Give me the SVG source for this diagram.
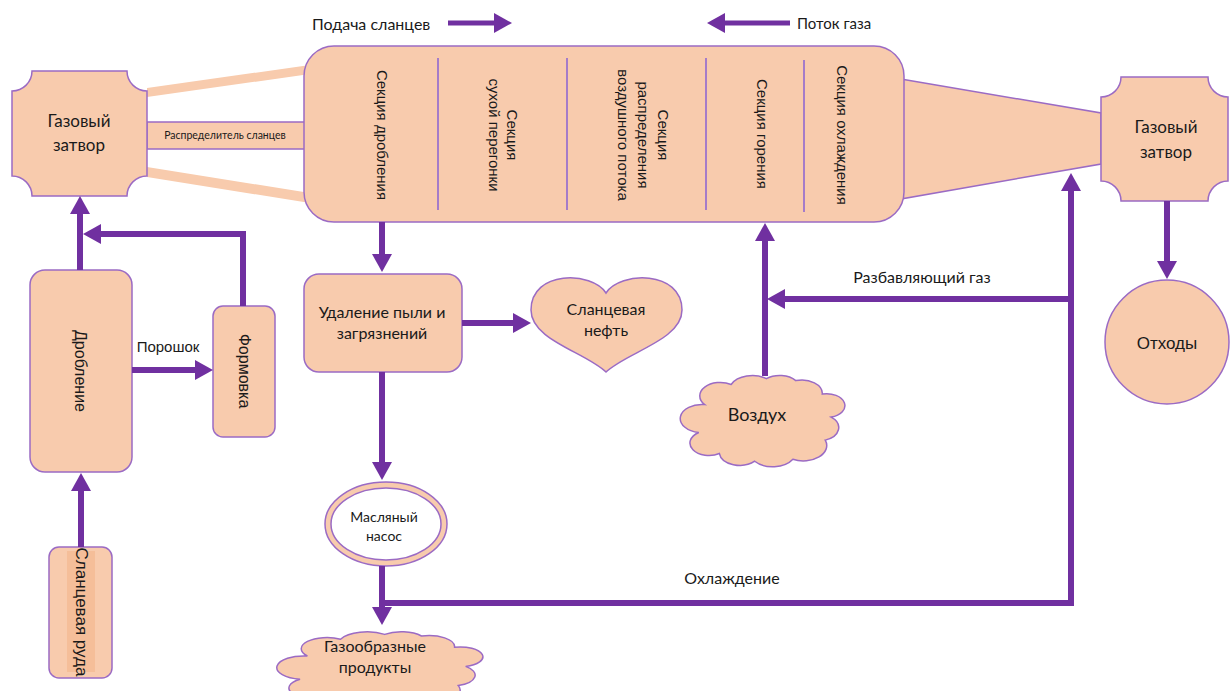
<svg xmlns="http://www.w3.org/2000/svg" xmlns:xlink="http://www.w3.org/1999/xlink" width="1230" height="691" viewBox="0 0 1230 691">
  <defs>
    <style>
      .n { fill: #f8cbad; stroke: #9b6bc4; stroke-width: 1.5; }
      .band { fill: #f8cbad; stroke: none; }
      .div { stroke: #a57cc9; stroke-width: 2; }
      .c { fill: none; stroke: #7030a0; stroke-width: 6; marker-end: url(#ah); }
      .cs { stroke-width: 5; }
      .t { font-family: Lato, "Liberation Sans", sans-serif; fill: #1a1a1a; text-anchor: middle; }
      .a { font-family: "Liberation Sans", Arial, sans-serif; fill: #1a1a1a; text-anchor: middle; }
      .v { dominant-baseline: central; }
    </style>
    <marker id="ah" viewBox="0 0 18 20" markerUnits="userSpaceOnUse" markerWidth="18" markerHeight="20" refX="9" refY="10" orient="auto">
      <path d="M0,0 L18,10 L0,20 Z" fill="#7030a0"/>
    </marker>
    <!-- cloud outline in a 100x100 box -->
    <path id="cloud" vector-effect="non-scaling-stroke" d="M10,35 A14,14 0 0 1 28,14 A16,16 0 0 1 52,8 A14,14 0 0 1 72,10 A14,14 0 0 1 90,24 A12,12 0 0 1 96,48 A14,14 0 0 1 92,72 A16,16 0 0 1 70,92 A16,16 0 0 1 44,94 A14,14 0 0 1 20,86 A12,12 0 0 1 6,64 A12,12 0 0 1 10,35 Z"/>
  </defs>

  <rect width="1230" height="691" fill="#ffffff"/>

  <!-- legend -->
  <g id="legend">
    <text class="t" x="312" y="30" style="text-anchor:start" font-size="16">Подача сланцев</text>
    <text class="t" x="797" y="29" style="text-anchor:start" font-size="15">Поток газа</text>
  </g>

  <!-- shale distributor arms -->
  <g id="distributor">
    <polygon class="band" points="147,88 310,65 310,74 147,97"/>
    <polygon class="band" points="147,167 310,193 310,203 147,177"/>
    <rect class="n" x="147" y="122" width="160" height="27" stroke-width="1"/>
    <text class="t" x="225" y="139" font-size="10.5">Распределитель сланцев</text>
  </g>

  <!-- outlet taper -->
  <g id="taper">
    <polygon class="n" points="895,78 1101,113 1101,164 895,200" stroke-width="1"/>
  </g>

  <!-- retort with sections -->
  <g id="retort">
    <rect class="n" x="304" y="46" width="600" height="176" rx="30" ry="30"/>
    <line class="div" x1="438" y1="58" x2="438" y2="210"/>
    <line class="div" x1="567" y1="58" x2="567" y2="210"/>
    <line class="div" x1="706" y1="58" x2="706" y2="210"/>
    <line class="div" x1="804" y1="60" x2="804" y2="212"/>
    <text class="a v" font-size="15" transform="translate(382,135) rotate(90)">Секция дробления</text>
    <text class="a v" font-size="15" transform="translate(504,135) rotate(90)"><tspan x="0" y="-9">Секция</tspan><tspan x="0" y="9">сухой перегонки</tspan></text>
    <text class="a v" font-size="15" transform="translate(644,135) rotate(90)"><tspan x="0" y="-20">Секция</tspan><tspan x="0" y="0">распределения</tspan><tspan x="0" y="20">воздушного потока</tspan></text>
    <text class="a v" font-size="15" transform="translate(762,134) rotate(90)">Секция горения</text>
    <text class="a v" font-size="15" transform="translate(842,135) rotate(90)">Секция охлаждения</text>
  </g>

  <g id="gate-left">
    <path class="n" d="M32,71 H127 A20,20 0 0 0 147,91 V176 A20,20 0 0 0 127,196 H32 A20,20 0 0 0 12,176 V91 A20,20 0 0 0 32,71 Z"/>
    <text class="t" x="79" y="127" font-size="17">Газовый</text>
    <text class="t" x="79" y="151" font-size="17">затвор</text>
  </g>

  <g id="gate-right">
    <path class="n" d="M1121,77 H1208 A20,20 0 0 0 1228,97 V181 A20,20 0 0 0 1208,201 H1121 A20,20 0 0 0 1101,181 V97 A20,20 0 0 0 1121,77 Z"/>
    <text class="t" x="1166" y="133" font-size="17">Газовый</text>
    <text class="t" x="1166" y="158" font-size="17">затвор</text>
  </g>

  <g id="waste">
    <circle class="n" cx="1167" cy="342" r="62"/>
    <text class="a" x="1167" y="349" font-size="17">Отходы</text>
  </g>

  <g id="crushing">
    <rect class="n" x="30" y="270" width="102" height="202" rx="15" ry="15"/>
    <text class="a v" font-size="16" transform="translate(80,371) rotate(90)">Дробление</text>
  </g>

  <g id="forming">
    <rect class="n" x="213" y="306" width="62" height="131" rx="10" ry="10"/>
    <text class="a v" font-size="16" transform="translate(244,371) rotate(90)">Формовка</text>
  </g>

  <g id="ore">
    <rect class="n" x="49" y="547" width="63" height="131" rx="10" ry="10"/>
    <rect x="67" y="551" width="28" height="121" fill="#f5be99"/>
    <text class="a v" font-size="17" transform="translate(81,612) rotate(90)">Сланцевая руда</text>
  </g>

  <g id="dedusting">
    <rect class="n" x="304" y="274" width="158" height="98" rx="15" ry="15"/>
    <text class="t" x="382" y="318" font-size="16">Удаление пыли и</text>
    <text class="t" x="382" y="339" font-size="16">загрязнений</text>
  </g>

  <g id="shale-oil">
    <path class="n" d="M606,293 C592,271 531,270 531,310 C531,340 585,352 606,372 C627,352 682,340 682,310 C682,270 620,271 606,293 Z"/>
    <text class="t" x="606" y="315" font-size="16">Сланцевая</text>
    <text class="t" x="606" y="336" font-size="16">нефть</text>
  </g>

  <g id="oil-pump">
    <ellipse class="n" cx="386" cy="524" rx="61" ry="42"/>
    <ellipse cx="386" cy="524" rx="55" ry="36" fill="#ffffff" stroke="#9b6bc4" stroke-width="1.5"/>
    <text class="t" x="384" y="522" font-size="14">Масляный</text>
    <text class="t" x="384" y="541" font-size="14">насос</text>
  </g>

  <g id="air">
    <use xlink:href="#cloud" class="n" transform="translate(690,371) scale(1.47,0.96)"/>
    <text class="t" x="757" y="421" font-size="18">Воздух</text>
  </g>

  <g id="gas-products">
    <use xlink:href="#cloud" class="n" transform="translate(289,628) scale(1.84,0.80)"/>
    <text class="t" x="375" y="652" font-size="16">Газообразные</text>
    <text class="t" x="375" y="673" font-size="16">продукты</text>
  </g>

  <!-- flows -->
  <g id="connectors">
    <path class="c cs" d="M448,23 H503"/>
    <path class="c cs" d="M790,23 H716"/>
    <path class="c" d="M81,547 V482"/>
    <path class="c" d="M80,270 V205"/>
    <path class="c" d="M243,306 V234 H92"/>
    <path class="c" d="M132,370 H204"/>
    <path class="c" d="M382,222 V263"/>
    <path class="c" d="M462,323 H522"/>
    <path class="c" d="M382,372 V471"/>
    <path class="c" d="M382,566 V616"/>
    <path class="c" d="M382,603 H1071 V182"/>
    <path class="c" d="M1071,299 H776"/>
    <path class="c" d="M765,376 V232"/>
    <path class="c" d="M1167,201 V270"/>
  </g>

  <g id="labels">
    <text class="a" x="168" y="352" font-size="15">Порошок</text>
    <text class="t" x="922" y="283" font-size="16">Разбавляющий газ</text>
    <text class="t" x="732" y="584" font-size="16">Охлаждение</text>
  </g>
</svg>
